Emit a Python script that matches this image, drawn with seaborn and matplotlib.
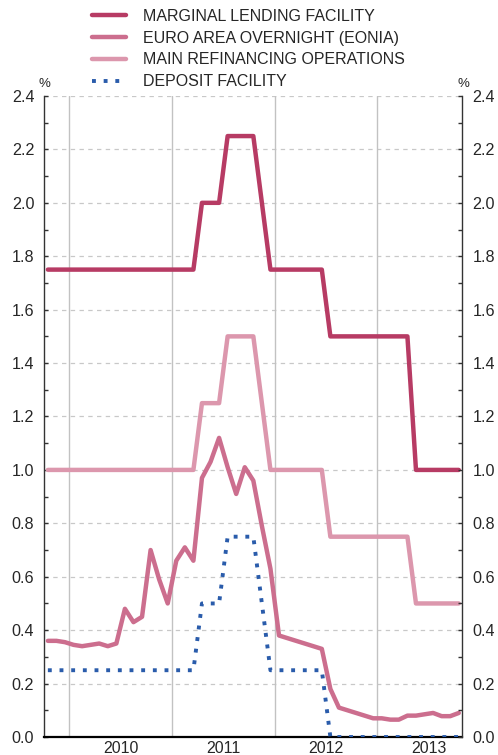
import matplotlib
matplotlib.use("Agg")
import matplotlib.pyplot as plt
import seaborn as sns
import pandas as pd
import numpy as np
from matplotlib.ticker import FixedLocator, MultipleLocator

# ---- data (monthly, Oct 2009 - Oct 2013) ----
months = [str(p) for p in pd.period_range("2009-10", "2013-10", freq="M")]

mlf = [1.75] * 18 + [2.00, 2.00, 2.00, 2.25, 2.25, 2.25, 2.25, 2.00] + \
      [1.75] * 7 + [1.50] * 10 + [1.00] * 6
mro = [1.00] * 18 + [1.25, 1.25, 1.25, 1.50, 1.50, 1.50, 1.50, 1.25] + \
      [1.00] * 7 + [0.75] * 10 + [0.50] * 6
deposit = [0.25] * 18 + [0.50, 0.50, 0.50, 0.75, 0.75, 0.75, 0.75, 0.50] + \
          [0.25] * 7 + [0.00] * 16
eonia = [0.36, 0.36, 0.355, 0.345, 0.34, 0.345, 0.35, 0.34, 0.35,
         0.48, 0.43, 0.45, 0.70, 0.59, 0.50, 0.66, 0.71, 0.66,
         0.97, 1.03, 1.12, 1.01, 0.91, 1.01, 0.96, 0.79, 0.63,
         0.38, 0.37, 0.36, 0.35, 0.34, 0.33, 0.18, 0.11, 0.10,
         0.09, 0.08, 0.07, 0.07, 0.065, 0.065, 0.08, 0.08, 0.085,
         0.09, 0.078, 0.078, 0.09]

series_names = ["MARGINAL LENDING FACILITY", "EURO AREA OVERNIGHT (EONIA)",
                "MAIN REFINANCING OPERATIONS", "DEPOSIT FACILITY"]
years = [2010, 2011, 2012, 2013]

# ---- build frame ----
per = pd.PeriodIndex(months, freq="M")
xpos = per.year + (per.month - 0.5) / 12.0
df = pd.DataFrame({"x": xpos, "mlf": mlf, "eonia": eonia, "mro": mro,
                   "deposit": deposit})

sns.set_style("white")
plt.rcParams["font.family"] = ["Liberation Sans", "DejaVu Sans"]
plt.rcParams["font.size"] = 11.4

fig = plt.figure(figsize=(4.98, 7.55), dpi=100)
ax = fig.add_axes([44 / 498, 1 - 737 / 755, (462 - 44) / 498, (737 - 96) / 755])

c_mlf = "#b73b64"
c_eon = "#cc6e8e"
c_mro = "#dc97ad"
c_dep = "#2a5cab"

sns.lineplot(data=df, x="x", y="mlf", ax=ax, color=c_mlf, lw=3.2,
             label=series_names[0], zorder=4)
sns.lineplot(data=df, x="x", y="eonia", ax=ax, color=c_eon, lw=3.2,
             label=series_names[1], zorder=3)
sns.lineplot(data=df, x="x", y="mro", ax=ax, color=c_mro, lw=3.2,
             label=series_names[2], zorder=3)
sns.lineplot(data=df, x="x", y="deposit", ax=ax, color=c_dep, lw=2.8,
             label=series_names[3], zorder=5, linestyle=(0, (1, 2)),
             dash_capstyle="butt")

ax.set_xlim(2009.754, 2013.823)
ax.set_ylim(0, 2.4)
ax.set_xlabel("")
ax.set_ylabel("")

# x ticks: quarters, labels at mid-year
quarters = np.arange(2010.0, 2013.76, 0.25)
ax.xaxis.set_major_locator(FixedLocator(quarters))
labels = []
for q in quarters:
    if abs(q - round(q - 0.5) - 0.5) < 1e-6:
        labels.append(str(int(q)))
    else:
        labels.append("")
ax.set_xticklabels(labels)
ax.tick_params(axis="x", direction="in", length=5, width=1, color="black",
               pad=2.6, labelsize=11.4)

# y ticks
ax.yaxis.set_major_locator(MultipleLocator(0.2))
ax.yaxis.set_minor_locator(MultipleLocator(0.1))
ax.yaxis.set_major_formatter(matplotlib.ticker.FormatStrFormatter("%.1f"))
ax.tick_params(axis="y", which="both", direction="in", length=2.6, width=1,
               color="#333333", pad=7, labelsize=11.6)

# grids
ax.grid(False)
for yv in np.arange(0.2, 2.41, 0.2):
    ax.axhline(yv, color="#c8c8c8", lw=0.9, ls=(0, (3.5, 3.5)), zorder=0)
for yr in years:
    ax.axvline(yr, color="#c2c2c2", lw=1.0, zorder=0)

ax.spines["top"].set_visible(False)
ax.spines["left"].set_color("#333333")
ax.spines["left"].set_linewidth(1)
ax.spines["right"].set_visible(False)
ax.spines["bottom"].set_color("black")
ax.spines["bottom"].set_linewidth(1.6)

# right axis
ax2 = ax.twinx()
ax2.set_ylim(0, 2.4)
ax2.yaxis.set_major_locator(MultipleLocator(0.2))
ax2.yaxis.set_minor_locator(MultipleLocator(0.1))
ax2.yaxis.set_major_formatter(matplotlib.ticker.FormatStrFormatter("%.1f"))
ax2.tick_params(axis="y", which="both", direction="in", length=2.6, width=1,
                color="#333333", pad=7.5, labelsize=11.6)
for s in ["top", "left", "bottom"]:
    ax2.spines[s].set_visible(False)
ax2.spines["right"].set_color("#333333")
ax2.spines["right"].set_linewidth(1)
ax2.grid(False)

# percent signs
fig.text(44 / 498, 1 - 84 / 755, "%", ha="center", va="center", fontsize=9.5)
fig.text(463 / 498, 1 - 84 / 755, "%", ha="center", va="center", fontsize=9.5)

# legend
h, l = ax.get_legend_handles_labels()
if ax.legend_:
    ax.legend_.remove()
fig.legend(h, l, loc="upper left", bbox_to_anchor=(92 / 498, 1 - 9 / 755),
           frameon=False, borderpad=0, borderaxespad=0, handlelength=2.1,
           handletextpad=1.1, labelspacing=0.42, fontsize=11.5)

fig.savefig("out.png", dpi=100)
